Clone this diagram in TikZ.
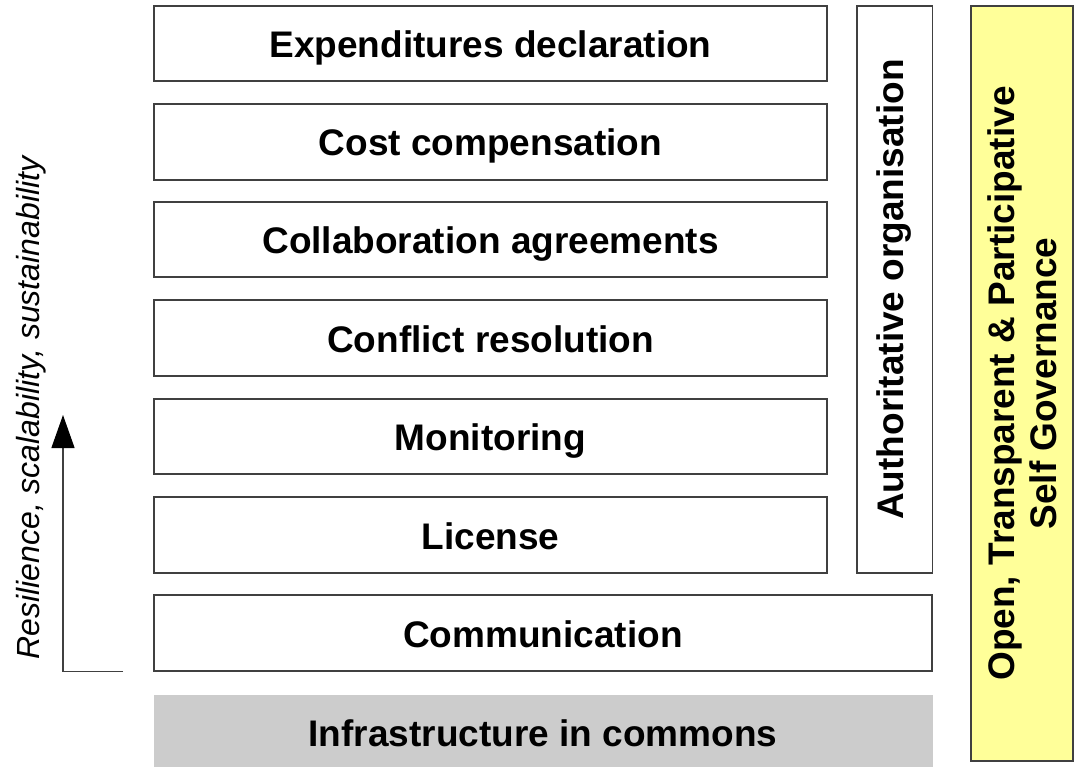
\documentclass[tikz,border=0pt]{standalone}
\usepackage{fontspec}
\setmainfont{Liberation Sans}
\usetikzlibrary{arrows.meta}
\definecolor{boxline}{HTML}{404040}
\definecolor{yel}{HTML}{FFFF99}
\definecolor{gry}{HTML}{CCCCCC}
\tikzset{
  layer/.style={draw=boxline, line width=1.3pt, fill=white, inner sep=0pt},
  lbl/.style={font=\fontsize{37}{42}\selectfont\bfseries, inner sep=0pt, anchor=base},
}
\begin{document}
\begin{tikzpicture}[x=1pt,y=-1pt]
\useasboundingbox (0,0) rectangle (1081,767);
% stacked layers
\draw[layer] (154,6) rectangle (827,81);
\node[lbl] (exp) at (490.5,57.5) {Expenditures declaration};
\draw[layer] (154,104) rectangle (827,180);
\node[lbl] (cost) at (490.5,156) {Cost compensation};
\draw[layer] (154,202) rectangle (827,277);
\node[lbl] (coll) at (490.5,253.5) {Collaboration agreements};
\draw[layer] (154,300) rectangle (827,376);
\node[lbl] (conf) at (490.5,352) {Conflict resolution};
\draw[layer] (154,399) rectangle (827,474);
\node[lbl] (mon) at (490.5,450.5) {Monitoring};
\draw[layer] (154,497) rectangle (827,573);
\node[lbl] (lic) at (490.5,549) {License};
\draw[layer] (154,595) rectangle (932,671);
\node[lbl] (comm) at (543,647) {Communication};
\fill[gry] (154,695) rectangle (933,767);
\node[lbl] (infra) at (543,746) {Infrastructure in commons};
% authoritative organisation
\draw[layer] (857,6) rectangle (932.5,573);
\node[lbl, anchor=center, rotate=90] (auth) at (894.5,289.5) {Authoritative organisation};
% yellow governance
\draw[draw=boxline, line width=1.3pt, fill=yel] (971,6) rectangle (1073,761);
\node[lbl, anchor=center, rotate=90, align=center] (gov) at (1022,383.5) {Open, Transparent \& Participative\\Self Governance};
% arrow
\coordinate (a0) at (123,671.5);
\coordinate (a1) at (63,671.5);
\coordinate (a2) at (63,415);
\draw[line width=1.3pt, draw=boxline, -{Triangle[length=33pt,width=23pt,fill=black,color=black]}] (a0) -- (a1) -- (a2);
\node[font=\fontsize{32}{36}\selectfont\itshape, rotate=90, inner sep=0pt] (res) at (31,408) {Resilience, scalability, sustainability};
\end{tikzpicture}
\end{document}
